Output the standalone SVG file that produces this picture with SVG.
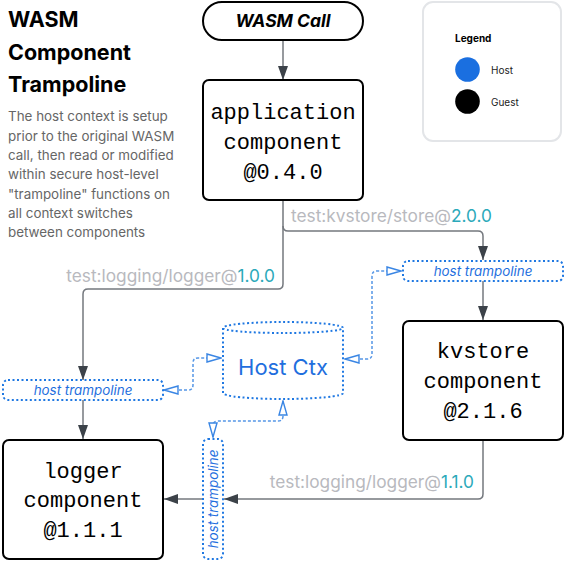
<svg xmlns="http://www.w3.org/2000/svg" width="564" height="561" viewBox="0 0 564 561">
<style>
.box{fill:#fff;stroke:#000;stroke-width:2}
.mono{font-family:"Liberation Mono","DejaVu Sans Mono",monospace;font-size:22px;fill:#000;text-anchor:middle}
.sans{font-family:Inter,"Noto Sans","Liberation Sans",sans-serif}
.conn{fill:none;stroke:#74787e;stroke-width:1.5}
.hdash{fill:none;stroke:#5596e6;stroke-width:1.5;stroke-dasharray:3 2}
.dot{fill:#fff;stroke:#1f78e2;stroke-width:2;stroke-dasharray:2 2.5}
.tramp{font-family:Inter,"Noto Sans","Liberation Sans",sans-serif;font-size:13.4px;font-style:italic;fill:#1f6fde;text-anchor:middle}
.lbl{font-family:Inter,"Noto Sans","Liberation Sans",sans-serif;font-size:17.3px;fill:#b8b9be}
.ver{fill:#2ba9ba}
.desc{font-family:Inter,"Noto Sans","Liberation Sans",sans-serif;font-size:13.4px;fill:#666}
</style>
<defs>
<marker id="arr" viewBox="0 0 14 10" refX="14" refY="5" markerWidth="14" markerHeight="10" markerUnits="userSpaceOnUse" orient="auto">
<path d="M0,0 L14,5 L0,10 Z" fill="#3c4249"/>
</marker>
<marker id="oarr" viewBox="0 0 16 10" refX="15" refY="5" markerWidth="16" markerHeight="10" markerUnits="userSpaceOnUse" orient="auto-start-reverse">
<path d="M1,1 L15,5 L1,9 Z" fill="#fff" stroke="#3a86e4" stroke-width="1.4"/>
</marker>
</defs>
<rect width="564" height="561" fill="#fff"/>

<g id="title">
<text class="sans" font-size="21.5" font-weight="700" fill="#000" x="8" y="27">WASM</text>
<text class="sans" font-size="21.5" font-weight="700" fill="#000" x="8" y="59.5">Component</text>
<text class="sans" font-size="21.5" font-weight="700" fill="#000" x="8" y="91.5">Trampoline</text>
<text class="desc" x="8" y="121">The host context is setup</text>
<text class="desc" x="8" y="140.5">prior to the original WASM</text>
<text class="desc" x="8" y="160">call, then read or modified</text>
<text class="desc" x="8" y="179">within secure host-level</text>
<text class="desc" x="8" y="198.5">"trampoline" functions on</text>
<text class="desc" x="8" y="218">all context switches</text>
<text class="desc" x="8" y="237">between components</text>
</g>

<g id="legend">
<rect x="423" y="2" width="138" height="139" rx="10" fill="#fff" stroke="#e3e5e8" stroke-width="2"/>
<text class="sans" font-size="10" font-weight="700" fill="#000" x="455" y="41.5">Legend</text>
<circle cx="467.5" cy="69.5" r="12.3" fill="#1a6fe0"/>
<text class="sans" font-size="10" fill="#222" x="491" y="73.5">Host</text>
<circle cx="467.5" cy="101.5" r="12.3" fill="#000"/>
<text class="sans" font-size="10" fill="#222" x="491" y="105.5">Guest</text>
</g>

<g id="connectors">
<path class="conn" d="M283,40 L283,80" marker-end="url(#arr)"/>
<path class="conn" d="M283,200 L283,226 Q283,231 288,231 L478,231 Q483,231 483,236 L483,260" marker-end="url(#arr)"/>
<path class="conn" d="M283,226 L283,284 Q283,289 278,289 L88,289 Q83,289 83,294 L83,380" marker-end="url(#arr)"/>
<path class="conn" d="M83,400 L83,439" marker-end="url(#arr)"/>
<path class="conn" d="M483,281 L483,320" marker-end="url(#arr)"/>
<path class="conn" d="M483,440 L483,494 Q483,499 478,499 L224,499" marker-end="url(#arr)"/>
<path class="conn" d="M203,499 L164,499" marker-end="url(#arr)"/>
<path class="hdash" d="M345,359 L367,359 Q372,359 372,354 L372,276 Q372,271 377,271 L401,271" marker-start="url(#oarr)" marker-end="url(#oarr)"/>
<path class="hdash" d="M164,390 L188,390 Q193,390 193,385 L193,363 Q193,358 198,358 L221,358" marker-start="url(#oarr)" marker-end="url(#oarr)"/>
<path class="hdash" d="M283,401 L283,416 Q283,421 278,421 L218,421 Q213,421 213,426 L213,437" marker-start="url(#oarr)" marker-end="url(#oarr)"/>
<text class="lbl" x="291" y="222">test:kvstore/store@<tspan class="ver">2.0.0</tspan></text>
<text class="lbl" x="275" y="282" text-anchor="end">test:logging/logger@<tspan class="ver">1.0.0</tspan></text>
<text class="lbl" x="474" y="488" text-anchor="end">test:logging/logger@<tspan class="ver">1.1.0</tspan></text>
</g>

<g id="wasm-call">
<rect x="203" y="2" width="160" height="38" rx="19" fill="#fff" stroke="#000" stroke-width="2"/>
<text class="sans" x="283" y="27" font-size="17.5" font-weight="700" font-style="italic" text-anchor="middle" fill="#000">WASM Call</text>
</g>

<g id="application">
<rect class="box" x="203" y="80" width="160" height="120" rx="6"/>
<text class="mono" x="283" y="119">application</text>
<text class="mono" x="283" y="149">component</text>
<text class="mono" x="283" y="178.5">@0.4.0</text>
</g>

<g id="tramp-kv">
<rect class="dot" x="403" y="261" width="160" height="20" rx="5"/>
<text class="tramp" x="483" y="275.5">host trampoline</text>
</g>

<g id="kvstore">
<rect class="box" x="403" y="321" width="160" height="119" rx="6"/>
<text class="mono" x="483" y="358">kvstore</text>
<text class="mono" x="483" y="388">component</text>
<text class="mono" x="483" y="417.5">@2.1.6</text>
</g>

<g id="host-ctx">
<path class="dot" d="M223,328 L223,393 A60,6 0 0 0 343,393 L343,328 A60,6 0 0 0 223,328 Z"/>
<path class="dot" d="M223,328 A60,5 0 0 0 343,328" fill="none"/>
<text class="sans" x="283" y="375" font-size="22" fill="#1f6fde" text-anchor="middle">Host Ctx</text>
</g>

<g id="tramp-log">
<rect class="dot" x="3" y="380" width="160" height="20" rx="5"/>
<text class="tramp" x="83" y="394.5">host trampoline</text>
</g>

<g id="tramp-vert">
<rect class="dot" x="203" y="439" width="20" height="120" rx="5"/>
<text class="tramp" transform="translate(217.5,499) rotate(-90)" x="0" y="0">host trampoline</text>
</g>

<g id="logger">
<rect class="box" x="3" y="440" width="160" height="119" rx="6"/>
<text class="mono" x="83" y="477.5">logger</text>
<text class="mono" x="83" y="507">component</text>
<text class="mono" x="83" y="537">@1.1.1</text>
</g>
</svg>
